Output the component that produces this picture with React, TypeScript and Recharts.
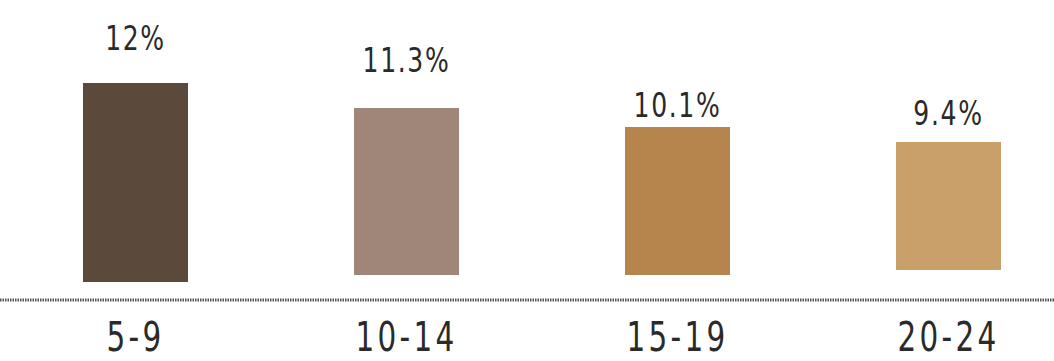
import React from 'react'
import { BarChart, Bar, XAxis, YAxis, Cell, LabelList } from 'recharts'

const ageGroups = ['5-9', '10-14', '15-19', '20-24']
const shares = [12, 11.3, 10.1, 9.4]
// bars float at slightly different heights in the original; bottom / top in chart units (0..300)
const barBottoms = [18, 25, 25, 30]
const barTops = [217, 192, 173, 158]

const COLORS = ['#5b4a3c', '#a08678', '#b6844d', '#c9a06a']
const LABEL_GAP = [33, 36, 10, 17]
const FONT = "'DejaVu Sans Condensed', 'DejaVu Sans', sans-serif"

const rows = ageGroups.map((g, i) => ({
  group: g,
  range: [barBottoms[i], barTops[i]],
  label: `${shares[i]}%`,
}))

const ValueLabel = (props: any) => {
  const { x, y, width, value, index } = props
  return (
    <g transform={`translate(${x + width / 2},${y - LABEL_GAP[index]}) scale(0.82,1)`}>
      <text
        x={0}
        y={0}
        textAnchor="middle"
        fontFamily={FONT}
        fontSize={34}
        letterSpacing={2}
        fill="#2a2a2a"
      >
        {value}
      </text>
    </g>
  )
}

const GroupTick = (props: any) => {
  const { x, y, payload } = props
  return (
    <g transform={`translate(${x},${y + 51}) scale(0.82,1)`}>
      <text
        x={0}
        y={0}
        textAnchor="middle"
        fontFamily={FONT}
        fontSize={40}
        letterSpacing={4}
        fill="#2a2a2a"
      >
        {payload.value}
      </text>
    </g>
  )
}

export default function App() {
  return (
    <div style={{ position: 'absolute', left: 0, top: 0, background: '#fff' }}>
      <BarChart
        width={1054}
        height={361}
        data={rows}
        margin={{ top: 0, right: -30, bottom: 0, left: 0 }}
      >
        <YAxis hide domain={[0, 300]} type="number" />
        <XAxis
          dataKey="group"
          height={61}
          tickLine={false}
          tickSize={0}
          tickMargin={0}
          axisLine={{ stroke: '#555', strokeWidth: 3, strokeDasharray: '1.5 1' }}
          tick={<GroupTick />}
          interval={0}
        />
        <Bar dataKey="range" barSize={105} isAnimationActive={false}>
          {rows.map((r, i) => (
            <Cell key={r.group} fill={COLORS[i]} />
          ))}
          <LabelList dataKey="label" content={<ValueLabel />} />
        </Bar>
      </BarChart>
    </div>
  )
}
